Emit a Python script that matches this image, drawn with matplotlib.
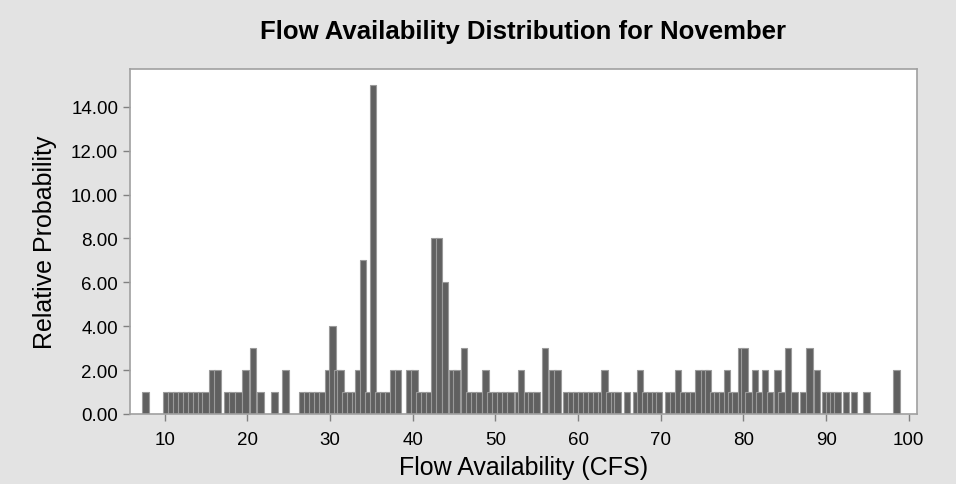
import matplotlib.pyplot as plt

# flow value (CFS) and relative probability
flow = [7.7,
        10.2, 10.8, 11.4, 12.0, 12.6, 13.2, 13.8, 14.4, 14.9,
        15.7, 16.4,
        17.6, 18.2, 18.9, 19.8, 20.7, 21.6,
        23.3, 24.6,
        26.7, 27.3, 27.9, 28.5, 29.1, 29.8, 30.3, 30.9, 31.3,
        31.9, 32.5, 33.1, 33.4, 34.0, 34.6, 35.2, 35.8, 36.4, 37.0,
        37.6, 38.2, 39.6, 40.2, 40.8, 41.4, 42.0,
        42.6, 43.2, 43.9, 44.8, 45.3, 46.2,
        46.8, 47.4, 48.0, 48.8, 49.4, 50.0, 50.6, 51.2, 51.8,
        52.8, 53.1, 53.9, 54.4, 55.0, 56.0, 56.9, 57.5,
        58.6, 59.2, 59.8, 60.4, 61.0, 61.6, 62.2, 62.8, 63.2, 63.8, 64.4, 64.8,
        65.9,
        67.1, 67.5, 68.1, 68.7, 69.3, 69.8,
        70.9, 71.5, 72.1, 72.7, 73.3, 73.9, 74.6, 75.3, 75.7,
        76.3, 76.9, 77.4, 78.0, 78.5, 79.0, 79.7, 80.1,
        80.6, 81.4, 81.9, 82.6, 83.2, 84.1, 84.6, 85.4, 86.2,
        87.3, 88.0, 88.9,
        89.9, 90.4, 90.9, 91.4, 92.4, 93.4, 94.9, 98.5]
prob = [1,
        1, 1, 1, 1, 1, 1, 1, 1, 1,
        2, 2,
        1, 1, 1, 2, 3, 1,
        1, 2,
        1, 1, 1, 1, 1, 2, 4, 2, 2,
        1, 1, 1, 2, 7, 1, 15, 1, 1, 1,
        2, 2, 2, 2, 1, 1, 1,
        8, 8, 6, 2, 2, 3,
        1, 1, 1, 2, 1, 1, 1, 1, 1,
        1, 2, 1, 1, 1, 3, 2, 2,
        1, 1, 1, 1, 1, 1, 1, 1, 2, 1, 1, 1,
        1,
        1, 2, 1, 1, 1, 1,
        1, 1, 2, 1, 1, 1, 2, 2, 2,
        1, 1, 1, 2, 1, 1, 3, 3,
        1, 2, 1, 2, 1, 2, 1, 3, 1,
        1, 3, 2,
        1, 1, 1, 1, 1, 1, 1, 2]

plt.rcParams['font.family'] = ['Liberation Sans', 'DejaVu Sans']

fig = plt.figure(figsize=(9.56, 4.85), dpi=100, facecolor='#e3e3e3')
ax = fig.add_axes([130 / 956, 70 / 485, 787 / 956, 345 / 485])
ax.set_facecolor('white')

ax.bar(flow, prob, width=0.8, color='#606060', edgecolor='#9a9a9a', linewidth=0.8)

ax.set_xlim(5.8, 101.0)
ax.set_ylim(0, 15.72)
ax.set_xticks(range(10, 101, 10))
ax.set_yticks(range(0, 15, 2))
ax.set_yticklabels([f'{v:.2f}' for v in range(0, 15, 2)])
ax.tick_params(axis='both', labelsize=13.5, color='#808080', length=5, width=1)
ax.tick_params(axis='x', pad=7)

for s in ax.spines.values():
    s.set_color('#a0a0a0')
    s.set_linewidth(1.2)

ax.set_title('Flow Availability Distribution for November', fontsize=18.5,
             fontweight='bold', pad=22)
ax.set_xlabel('Flow Availability (CFS)', fontsize=18, labelpad=5)
ax.set_ylabel('Relative Probability', fontsize=18, labelpad=10)

plt.savefig('out.png', dpi=100, facecolor=fig.get_facecolor())
